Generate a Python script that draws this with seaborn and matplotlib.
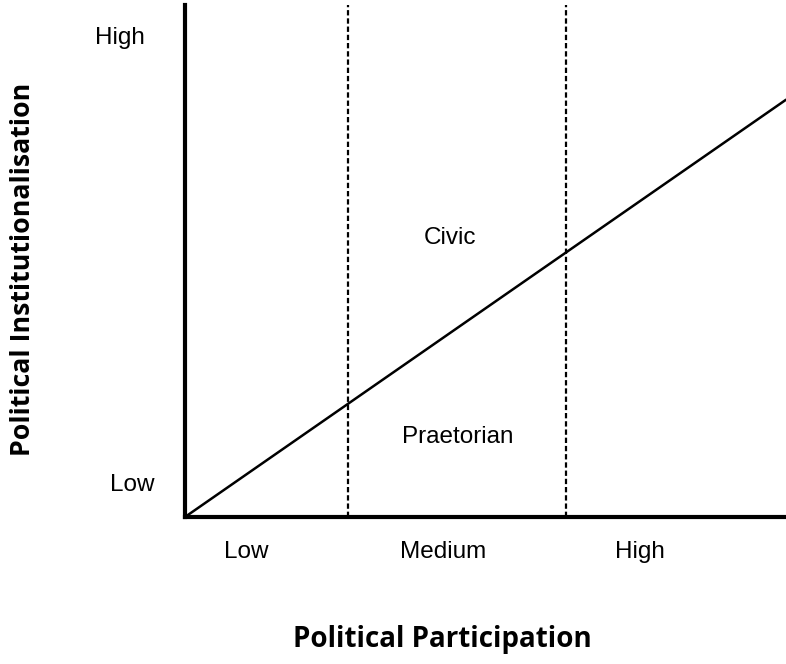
import seaborn as sns
import matplotlib.pyplot as plt
import pandas as pd

# data for the diagram
participation = [0.0, 1.0]
institutionalisation = [0.0, 0.815]
boundaries = [0.271, 0.634]
part_labels = ["Low", "Medium", "High"]
part_label_x = [0.1015, 0.429, 0.757]
inst_labels = ["High", "Low"]
inst_label_y = [0.936, 0.0625]
inst_label_x = [-0.108, -0.087]
regions = ["Civic", "Praetorian"]
region_x = [0.441, 0.453]
region_y = [0.545, 0.156]

sns.set_style("white")
plt.rcParams['font.family'] = ['Liberation Sans', 'DejaVu Sans']
plt.rcParams['text.color'] = 'black'

fig = plt.figure(figsize=(7.86, 6.64), dpi=100)
ax = fig.add_axes([185 / 786, 147 / 664, 601 / 786, 512 / 664])

df = pd.DataFrame({'participation': participation, 'inst': institutionalisation})
sns.lineplot(data=df, x='participation', y='inst', color='black', linewidth=1.8, ax=ax)

for b in boundaries:
    ax.axvline(b, color='black', linestyle=(0, (2.4, 1.3)), linewidth=1.6)

ax.set_xlim(0, 1)
ax.set_ylim(0, 1)
ax.set_xticks([])
ax.set_yticks([])
ax.set_xlabel("")
ax.set_ylabel("")
for s in ['top', 'right']:
    ax.spines[s].set_visible(False)
for s in ['left', 'bottom']:
    ax.spines[s].set_color('black')
    ax.spines[s].set_linewidth(3)

for lab, x in zip(part_labels, part_label_x):
    ax.text(x, -0.068, lab, ha='center', va='center', fontsize=17.5, clip_on=False)
for lab, x, y in zip(inst_labels, inst_label_x, inst_label_y):
    ax.text(x, y, lab, ha='center', va='center', fontsize=17.5, clip_on=False)
for lab, x, y in zip(regions, region_x, region_y):
    ax.text(x, y, lab, ha='center', va='center', fontsize=17.5)

ax.text(0.429, -0.24, "Political Participation", ha='center', va='center',
        fontsize=20, fontweight='bold', family=['Open Sans', 'DejaVu Sans'], clip_on=False)
ax.text(-0.27, 0.483, "Political Institutionalisation", ha='center', va='center',
        rotation=90, fontsize=19.3, fontweight='bold', family=['Open Sans', 'DejaVu Sans'],
        clip_on=False)

fig.savefig("out.png", dpi=100)
